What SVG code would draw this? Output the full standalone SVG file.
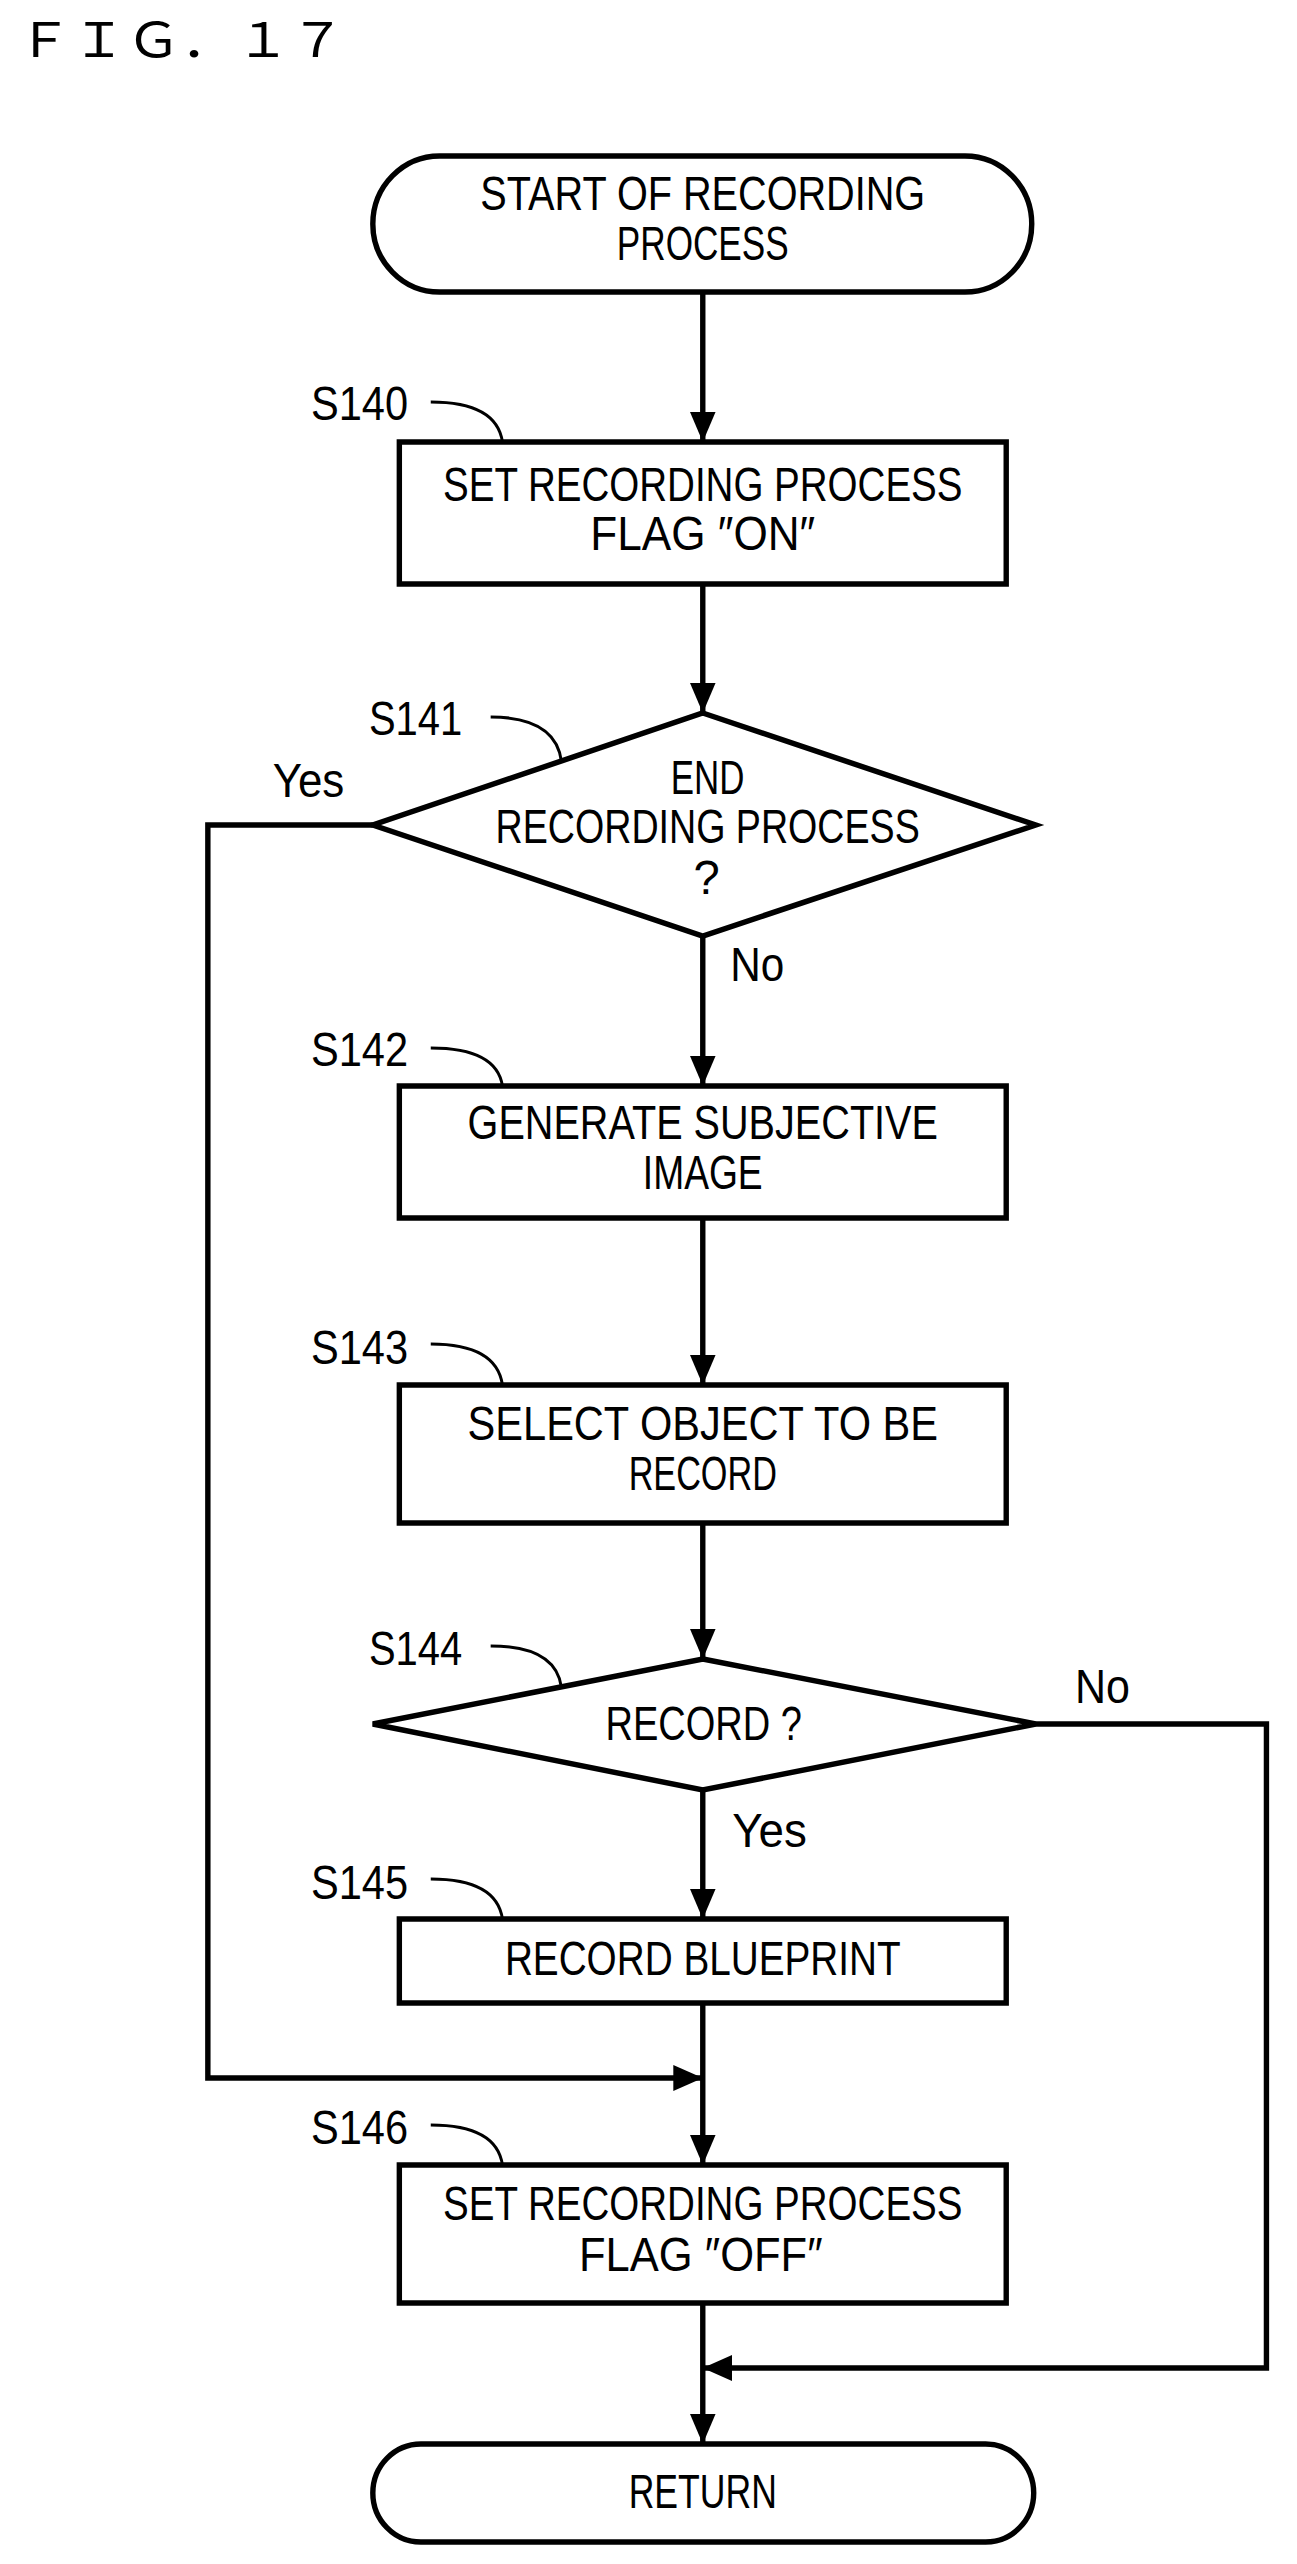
<svg xmlns="http://www.w3.org/2000/svg" width="1297" height="2564" viewBox="0 0 1297 2564">
<style>
.s{fill:#fff;stroke:#000;stroke-width:5.5}
.c{fill:none;stroke:#000;stroke-width:5.5}
.l{fill:none;stroke:#000;stroke-width:3}
text{font-family:"Liberation Sans",Arial,sans-serif;font-size:48px;fill:#000}
.m{text-anchor:middle}
</style>
<defs>
<marker id="a" markerUnits="userSpaceOnUse" markerWidth="32" markerHeight="26" refX="30" refY="13" orient="auto"><path d="M0,0 L30,13 L0,26 z" fill="#000"/></marker>
</defs>
<text x="17" y="57" style="font-family:'Noto Sans CJK JP',sans-serif;font-size:48px" textLength="328" lengthAdjust="spacingAndGlyphs">ＦＩＧ．１７</text>
<g transform="matrix(0.982 0 0 1 -2.3 0)">
<g id="connectors">
<path class="c" d="M718,292 V442" marker-end="url(#a)"/>
<path class="c" d="M718,584 V713" marker-end="url(#a)"/>
<path class="c" d="M718,936 V1086" marker-end="url(#a)"/>
<path class="c" d="M718,1218 V1385" marker-end="url(#a)"/>
<path class="c" d="M718,1523 V1659" marker-end="url(#a)"/>
<path class="c" d="M718,1790 V1919" marker-end="url(#a)"/>
<path class="c" d="M718,2003 V2165" marker-end="url(#a)"/>
<path class="c" d="M382,825 H214 V2078 H718" marker-end="url(#a)"/>
<path class="c" d="M718,2303 V2444" marker-end="url(#a)"/>
<path class="c" d="M1057,1724 H1292 V2368 H718" marker-end="url(#a)"/>
<text x="280" y="797" textLength="73" lengthAdjust="spacingAndGlyphs">Yes</text>
<text x="746" y="981" textLength="55" lengthAdjust="spacingAndGlyphs">No</text>
<text x="1097" y="1703" textLength="56" lengthAdjust="spacingAndGlyphs">No</text>
<text x="748" y="1847" textLength="76" lengthAdjust="spacingAndGlyphs">Yes</text>
</g>
<g id="start">
<rect class="s" x="382" y="156" width="671" height="136" rx="68"/>
<text class="m" x="718" y="210" textLength="453" lengthAdjust="spacingAndGlyphs">START OF RECORDING</text>
<text class="m" x="718" y="260" textLength="175" lengthAdjust="spacingAndGlyphs">PROCESS</text>
</g>
<g id="S140">
<rect class="s" x="409" y="442" width="618" height="142"/>
<text class="m" x="718" y="501" textLength="529" lengthAdjust="spacingAndGlyphs">SET RECORDING PROCESS</text>
<text class="m" x="718" y="550" textLength="229" lengthAdjust="spacingAndGlyphs">FLAG ″ON″</text>
<text x="319" y="420" textLength="99" lengthAdjust="spacingAndGlyphs">S140</text>
<path class="l" d="M441,402 Q508,402 514,442"/>
</g>
<g id="S141">
<polygon class="s" points="718,713 1057,825 718,936 382,825"/>
<text class="m" x="723" y="794" textLength="75" lengthAdjust="spacingAndGlyphs">END</text>
<text class="m" x="723" y="843" textLength="432" lengthAdjust="spacingAndGlyphs">RECORDING PROCESS</text>
<text class="m" x="722" y="894">?</text>
<text x="378" y="735" textLength="95" lengthAdjust="spacingAndGlyphs">S141</text>
<path class="l" d="M502,717 Q568,717 574,761"/>
</g>
<g id="S142">
<rect class="s" x="409" y="1086" width="618" height="132"/>
<text class="m" x="718" y="1139" textLength="479" lengthAdjust="spacingAndGlyphs">GENERATE SUBJECTIVE</text>
<text class="m" x="718" y="1189" textLength="122" lengthAdjust="spacingAndGlyphs">IMAGE</text>
<text x="319" y="1066" textLength="99" lengthAdjust="spacingAndGlyphs">S142</text>
<path class="l" d="M441,1048 Q508,1048 514,1086"/>
</g>
<g id="S143">
<rect class="s" x="409" y="1385" width="618" height="138"/>
<text class="m" x="718" y="1440" textLength="479" lengthAdjust="spacingAndGlyphs">SELECT OBJECT TO BE</text>
<text class="m" x="718" y="1490" textLength="151" lengthAdjust="spacingAndGlyphs">RECORD</text>
<text x="319" y="1364" textLength="99" lengthAdjust="spacingAndGlyphs">S143</text>
<path class="l" d="M441,1344 Q508,1344 514,1385"/>
</g>
<g id="S144">
<polygon class="s" points="718,1659 1057,1724 718,1790 382,1724"/>
<text class="m" x="719" y="1740" textLength="200" lengthAdjust="spacingAndGlyphs">RECORD ?</text>
<text x="378" y="1665" textLength="95" lengthAdjust="spacingAndGlyphs">S144</text>
<path class="l" d="M502,1646 Q568,1646 574,1687"/>
</g>
<g id="S145">
<rect class="s" x="409" y="1919" width="618" height="84"/>
<text class="m" x="718" y="1975" textLength="403" lengthAdjust="spacingAndGlyphs">RECORD BLUEPRINT</text>
<text x="319" y="1899" textLength="99" lengthAdjust="spacingAndGlyphs">S145</text>
<path class="l" d="M441,1879 Q508,1879 514,1919"/>
</g>
<g id="S146">
<rect class="s" x="409" y="2165" width="618" height="138"/>
<text class="m" x="718" y="2220" textLength="529" lengthAdjust="spacingAndGlyphs">SET RECORDING PROCESS</text>
<text class="m" x="716" y="2271" textLength="248" lengthAdjust="spacingAndGlyphs">FLAG ″OFF″</text>
<text x="319" y="2144" textLength="99" lengthAdjust="spacingAndGlyphs">S146</text>
<path class="l" d="M441,2125 Q508,2125 514,2165"/>
</g>
<g id="return">
<rect class="s" x="382" y="2444" width="673" height="98" rx="49"/>
<text class="m" x="718" y="2508" textLength="151" lengthAdjust="spacingAndGlyphs">RETURN</text>
</g>
</g>
</svg>
